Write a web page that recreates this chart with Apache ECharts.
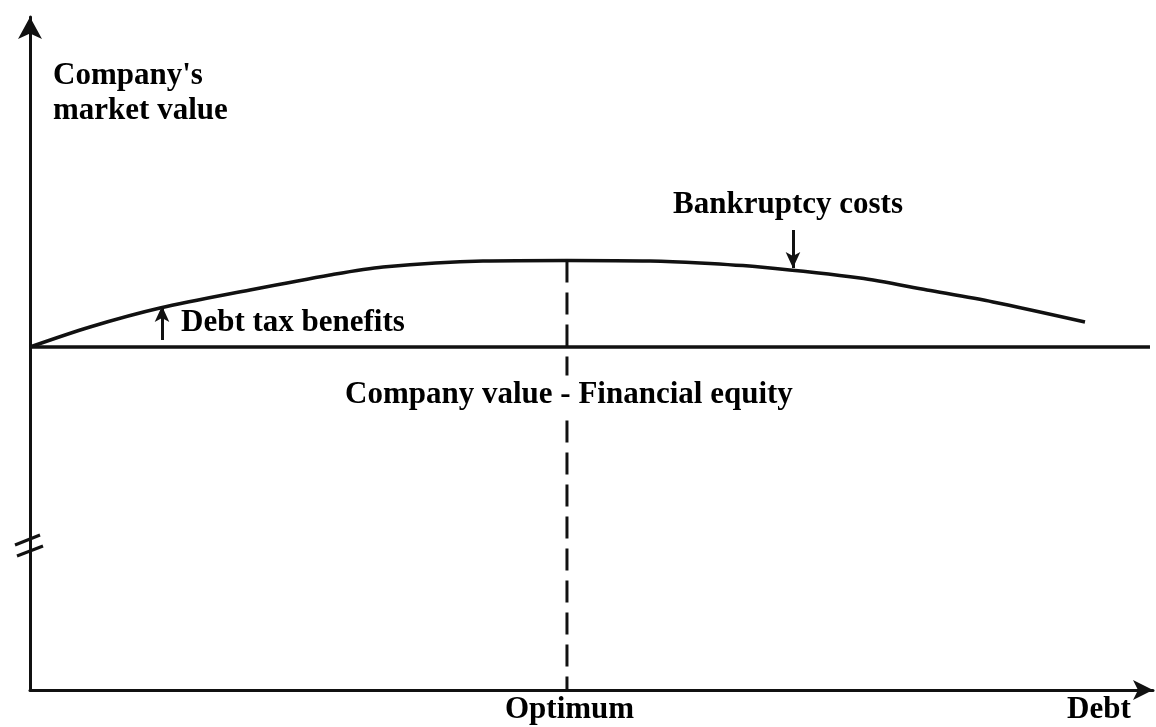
<!DOCTYPE html>
<html>
<head>
<meta charset="utf-8">
<script src="https://cdn.jsdelivr.net/npm/echarts@6/dist/echarts.min.js"></script>
<style>html,body{margin:0;padding:0;background:#fff}#c{width:1156px;height:727px}</style>
</head>
<body>
<div id="c"></div>
<script>
// Debt level and company's market value (abstract units)
const curveDebt  = [0, 5.38, 11.66, 19.73, 26.91, 31.66, 40.63, 48.16, 55.61, 60.09, 65.47, 74.44, 80.45, 86.37, 94.62];
const curveValue = [51.58, 54.59, 57.44, 60.15, 62.41, 63.61, 64.51, 64.59, 64.51, 64.21, 63.61, 61.95, 60.15, 58.35, 55.34];
const equityLevel = 51.58;          // Company value - Financial equity
const equityEnd = 100.45;
const optimumDebt = 48.16;          // Optimum
const optimumValue = 64.59;
const taxArrow = {x: 11.84, from: 52.63, to: 57.74};
const bankruptcyArrow = {x: 68.43, from: 69.17, to: 63.46};
const labels = {
  yTitle: ["Company's", "market value"],
  bankruptcy: "Bankruptcy costs",
  tax: "Debt tax benefits",
  equity: "Company value - Financial equity",
  optimum: "Optimum",
  xTitle: "Debt"
};

const ink = '#111';
const font = 'bold 31px "Liberation Serif", "Times New Roman", serif';
const chart = echarts.init(document.getElementById('c'));

function txt(t, x, y, bg) {
  const el = {type: 'text', x: x, y: y, z: 100, silent: true,
    style: {text: t, font: font, fill: '#000', verticalAlign: 'middle', align: 'left'}};
  if (bg) { el.style.backgroundColor = '#fff'; el.style.padding = [4, 2, 4, 2]; }
  return el;
}

chart.setOption({
  animation: false,
  backgroundColor: '#fff',
  grid: {left: 30, right: 3, top: 17, bottom: 37},
  xAxis: {
    type: 'value', min: 0, max: 100.72,
    axisLine: {show: true, onZero: false, symbol: ['none', 'arrow'], symbolSize: [15, 20],
      lineStyle: {color: ink, width: 3}},
    axisTick: {show: false}, axisLabel: {show: false}, splitLine: {show: false}
  },
  yAxis: {
    type: 'value', min: 0, max: 101.2,
    axisLine: {show: true, onZero: false, symbol: ['none', 'arrow'], symbolSize: [18, 22],
      lineStyle: {color: ink, width: 3}},
    axisTick: {show: false}, axisLabel: {show: false}, splitLine: {show: false}
  },
  series: [
    {
      type: 'line', smooth: 0.3, symbol: 'none',
      data: curveDebt.map((d, i) => [d, curveValue[i]]),
      lineStyle: {color: ink, width: 3.5}
    },
    {
      type: 'line', symbol: 'none',
      data: [[0, equityLevel], [equityEnd, equityLevel]],
      lineStyle: {color: ink, width: 3.5}
    },
    {
      type: 'line', symbol: 'none',
      data: [[optimumDebt, optimumValue], [optimumDebt, 0]],
      lineStyle: {color: ink, width: 3, type: [22, 10]}
    },
    {
      type: 'line', symbol: 'none', data: [],
      markLine: {
        silent: true, symbol: ['none', 'arrow'], symbolSize: [11, 16],
        label: {show: false},
        lineStyle: {color: ink, width: 3, type: 'solid'},
        data: [
          [{coord: [taxArrow.x, taxArrow.from]}, {coord: [taxArrow.x, taxArrow.to]}],
          [{coord: [bankruptcyArrow.x, bankruptcyArrow.from]}, {coord: [bankruptcyArrow.x, bankruptcyArrow.to]}]
        ]
      }
    }
  ],
  graphic: [
    txt(labels.yTitle[0], 53, 76),
    txt(labels.yTitle[1], 53, 111),
    txt(labels.bankruptcy, 673, 205),
    txt(labels.tax, 181, 323),
    txt(labels.equity, 343, 395, true),
    txt(labels.optimum, 505, 710),
    txt(labels.xTitle, 1067, 710),
    {type: 'line', z: 100, shape: {x1: 15, y1: 545, x2: 40, y2: 535}, style: {stroke: ink, lineWidth: 3}},
    {type: 'line', z: 100, shape: {x1: 17, y1: 556, x2: 43, y2: 546}, style: {stroke: ink, lineWidth: 3}}
  ]
});
</script>
</body>
</html>
